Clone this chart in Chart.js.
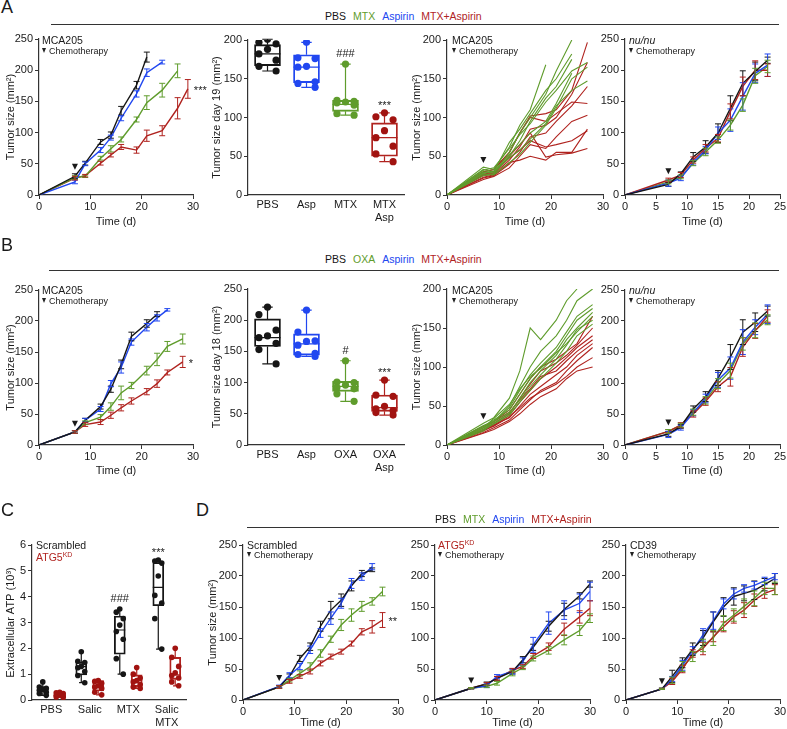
<!DOCTYPE html>
<html>
<head>
<meta charset="utf-8">
<script src="https://cdn.jsdelivr.net/npm/chart.js@4.4.1/dist/chart.umd.min.js"></script>
<style>
html, body { margin: 0; padding: 0; background: #fff; }
body { position: relative; width: 787px; height: 729px; overflow: hidden; font-family: "Liberation Sans", Arial, sans-serif; color: #1a1a1a; }
.abs { position: absolute; white-space: nowrap; }
.letter { font-size: 18px; line-height: 18px; }
.legend { font-size: 10.5px; line-height: 14px; }
.legend span { margin-right: 7px; }
.rule { position: absolute; height: 0; border-top: 1.3px solid #333; }
.note { position: absolute; white-space: nowrap; }
.note .n1 { font-size: 10.5px; line-height: 13px; }
.note .n2 { font-size: 9px; line-height: 11px; }
.tri { display: inline-block; width: 0; height: 0; border-left: 2.5px solid transparent; border-right: 2.5px solid transparent; border-top: 5px solid #222; margin-right: 3px; vertical-align: 1px; }
sup { font-size: 7px; vertical-align: 4px; line-height: 0; }
</style>
</head>
<body>
<script>
// colours
const C_PBS = '#161616', C_MTX = '#5f9c2c', C_ASP = '#2147f0', C_CMB = '#b0231f', C_DOT = '#a11310';
const AXIS = '#333';
const CHEMO_DAY = 7;

// ---------- A: MCA205, MTX +/- aspirin (mean tumor size, mm², ± SEM) ----------
const A1_T_PBS = [0, 7, 9, 12, 14, 16, 19, 21];
const A1_PBS   = [0, 30, 51, 85, 96, 135, 176, 221];
const A1_PBS_E = [0, 4, 3, 4, 5, 7, 6, 8];
const A1_T_ASP = [0, 7, 9, 12, 14, 16, 19, 21, 24];
const A1_ASP   = [0, 21, 50, 72, 92, 123, 162, 196, 213];
const A1_ASP_E = [0, 3, 3, 4, 4, 4, 5, 6, 3];
const A1_T_MTX = [0, 7, 9, 12, 14, 16, 19, 21, 24, 27];
const A1_MTX   = [0, 28, 30, 59, 74, 89, 121, 148, 168, 199];
const A1_MTX_E = [0, 3, 2, 3, 5, 4, 4, 11, 11, 11];
const A1_T_CMB = [0, 7, 9, 12, 14, 16, 19, 21, 24, 27, 29];
const A1_CMB   = [0, 27, 31, 51, 64, 77, 72, 95, 103, 139, 170];
const A1_CMB_E = [0, 3, 2, 3, 3, 4, 5, 9, 8, 17, 15];

// tumor size day 19 (box plots)
const A2_LABELS = ['PBS', 'Asp', 'MTX', ['MTX', 'Asp']];
const A2_PBS = [201, 197, 195, 188, 182, 174, 166, 160];
const A2_ASP = [197, 177, 176, 166, 165, 146, 144, 139];
const A2_MTX = [169, 122, 121, 120, 119, 116, 105, 103];
const A2_CMB = [106, 101, 97, 83, 74, 63, 53, 43];
const A2_Q1  = [167, 145, 108, 50];
const A2_MED = [182, 165, 117, 74];
const A2_Q3  = [194, 181, 122, 93];
const A2_SIG = ['', '', '###', '***'];

// individual tumors
const A3_T = [0, 7, 9, 12, 14, 16, 19, 21, 24, 27];
const A3_MTX = [
  [0, 36, 33, 62, 90, 110, 168],
  [0, 30, 28, 55, 80, 100, 130, 160, 200],
  [0, 28, 30, 68, 85, 105, 135, 150, 182],
  [0, 25, 27, 50, 70, 95, 125, 140, 175],
  [0, 32, 35, 60, 78, 92, 120, 135, 160, 171],
  [0, 27, 26, 42, 52, 68, 90, 112, 150, 165],
  [0, 33, 30, 48, 58, 72, 92, 115, 135, 147],
  [0, 29, 31, 52, 65, 80, 95, 118, 157]
];
const A3_CMB = [
  [0, 30, 33, 55, 80, 102, 105, 110, 135, 197],
  [0, 25, 27, 45, 62, 85, 90, 100, 130, 171],
  [0, 22, 25, 40, 55, 75, 80, 95, 115, 140],
  [0, 30, 33, 55, 80, 100, 95, 105, 120, 118],
  [0, 20, 24, 35, 50, 65, 60, 75, 95, 103],
  [0, 26, 28, 48, 58, 70, 62, 65, 70, 83],
  [0, 23, 26, 42, 45, 50, 45, 55, 55, 85],
  [0, 27, 29, 50, 65, 80, 49, 52, 54, 60]
];

// nu/nu mice
const A4_T = [0, 7, 9, 11, 13, 15, 17, 19, 21, 23];
const A4_PBS = [0, 17, 34, 61, 77, 99, 139, 179, 198, 216];
const A4_PBS_E = [0, 3, 3, 7, 10, 15, 20, 20, 15, 5];
const A4_ASP = [0, 19, 27, 52, 72, 99, 120, 158, 195, 208];
const A4_ASP_E = [0, 5, 4, 4, 6, 10, 18, 22, 15, 18];
const A4_CMB = [0, 24, 32, 56, 75, 91, 134, 174, 200, 200];
const A4_CMB_E = [0, 3, 4, 5, 6, 6, 12, 15, 15, 10];
const A4_MTX = [0, 21, 29, 51, 69, 88, 112, 144, 191, 206];
const A4_MTX_E = [0, 3, 3, 4, 6, 5, 8, 10, 12, 10];

// ---------- B: MCA205, OXA +/- aspirin ----------
const B1_T_PBS = [0, 7, 9, 12, 14, 16, 18, 21, 23];
const B1_PBS   = [0, 21, 40, 62, 90, 130, 175, 196, 211];
const B1_PBS_E = [0, 2, 3, 4, 5, 7, 7, 6, 4];
const B1_T_ASP = [0, 7, 9, 12, 14, 16, 18, 21, 23, 25];
const B1_ASP   = [0, 21, 40, 58, 99, 125, 166, 190, 205, 218];
const B1_ASP_E = [0, 2, 3, 4, 5, 9, 5, 6, 5, 2];
const B1_T_OXA = [0, 7, 9, 12, 14, 16, 18, 21, 23, 25, 28];
const B1_OXA   = [0, 21, 36, 45, 62, 84, 96, 120, 138, 159, 171];
const B1_OXA_E = [0, 2, 3, 4, 6, 11, 5, 7, 10, 8, 8];
const B1_CMB   = [0, 21, 33, 37, 48, 60, 71, 86, 99, 117, 134];
const B1_CMB_E = [0, 2, 3, 4, 5, 5, 5, 5, 6, 4, 9];

// tumor size day 18
const B2_LABELS = ['PBS', 'Asp', 'OXA', ['OXA', 'Asp']];
const B2_PBS = [221, 209, 184, 175, 172, 163, 153, 130];
const B2_ASP = [216, 181, 167, 166, 160, 147, 145, 142];
const B2_OXA = [135, 101, 100, 96, 92, 90, 82, 70];
const B2_CMB = [104, 80, 78, 62, 58, 55, 52, 48];
const B2_Q1  = [158, 144, 86, 54];
const B2_MED = [172, 162, 94, 60];
const B2_Q3  = [202, 178, 102, 80];
const B2_SIG = ['', '', '#', '***'];

const B3_T = [0, 7, 9, 12, 14, 16, 18, 21, 23, 25, 28];
const B3_OXA = [
  [0, 28, 35, 60, 95, 150, 135, 160, 185, 200],
  [0, 22, 30, 50, 75, 100, 120, 140, 160, 185, 200],
  [0, 20, 30, 48, 70, 90, 105, 125, 145, 165, 180],
  [0, 24, 32, 45, 65, 85, 100, 120, 140, 160, 175],
  [0, 18, 28, 40, 60, 80, 95, 115, 135, 150, 170],
  [0, 22, 34, 52, 72, 88, 98, 118, 130, 145, 165],
  [0, 25, 30, 42, 58, 75, 90, 110, 128, 148, 160],
  [0, 20, 27, 38, 55, 70, 85, 105, 120, 140, 155]
];
const B3_CMB = [
  [0, 22, 30, 45, 65, 85, 100, 110, 120, 130, 165],
  [0, 20, 28, 40, 60, 78, 95, 105, 115, 128, 150],
  [0, 18, 25, 38, 55, 70, 85, 100, 112, 125, 140],
  [0, 24, 30, 42, 58, 72, 88, 95, 108, 120, 135],
  [0, 20, 26, 35, 50, 65, 75, 90, 100, 115, 130],
  [0, 16, 22, 32, 45, 58, 70, 80, 95, 108, 125],
  [0, 19, 24, 36, 48, 60, 68, 78, 88, 100, 112],
  [0, 15, 20, 30, 40, 52, 62, 72, 85, 95, 100]
];

const B4_T = [0, 7, 9, 11, 13, 15, 17, 19, 21, 23];
const B4_PBS = [0, 18, 30, 58, 78, 108, 142, 182, 198, 216];
const B4_PBS_E = [0, 4, 3, 5, 8, 12, 20, 20, 15, 8];
const B4_ASP = [0, 17, 28, 52, 75, 105, 124, 166, 190, 211];
const B4_ASP_E = [0, 5, 4, 5, 7, 12, 18, 20, 12, 15];
const B4_CMB = [0, 22, 32, 50, 70, 94, 110, 158, 184, 208];
const B4_CMB_E = [0, 3, 4, 5, 6, 8, 15, 15, 12, 10];
const B4_OXA = [0, 22, 32, 53, 72, 99, 120, 163, 185, 202];
const B4_OXA_E = [0, 3, 3, 5, 6, 8, 12, 10, 12, 8];

// ---------- C: extracellular ATP (10³) ----------
const C_LABELS = ['PBS', 'Salic', 'MTX', ['Salic', 'MTX']];
const C_SCR_PBS = [0.70, 0.50, 0.45, 0.42, 0.38, 0.30, 0.25, 0.18];
const C_SCR_SAL = [1.87, 1.50, 1.45, 1.30, 1.25, 1.10, 0.95, 0.67];
const C_SCR_MTX = [3.52, 3.40, 3.15, 2.90, 2.65, 2.35, 1.60, 1.00];
const C_SCR_SM  = [5.42, 5.38, 5.30, 4.80, 4.05, 3.75, 3.15, 1.97];
const C_KD_PBS = [0.30, 0.28, 0.25, 0.20, 0.18, 0.15, 0.12, 0.10];
const C_KD_SAL = [0.75, 0.72, 0.65, 0.55, 0.50, 0.45, 0.30, 0.20];
const C_KD_MTX = [1.26, 1.00, 0.85, 0.75, 0.70, 0.60, 0.50, 0.45];
const C_KD_SM  = [2.00, 1.65, 1.30, 1.05, 0.95, 0.85, 0.70, 0.55];
const C_SCR_Q1  = [0.30, 0.97, 1.77, 3.65];
const C_SCR_MED = [0.40, 1.29, 2.71, 4.36];
const C_SCR_Q3  = [0.50, 1.46, 3.25, 5.32];
const C_KD_Q1  = [0.13, 0.35, 0.52, 0.80];
const C_KD_MED = [0.20, 0.55, 0.75, 0.97];
const C_KD_Q3  = [0.27, 0.75, 0.97, 1.65];
const C_SIG = ['', '', '###', '***'];

// ---------- D: Scrambled / ATG5KD / CD39 ----------
const D1_T = [0, 7, 9, 11, 13, 15, 17, 19, 21, 23, 25, 27];
const D1_PBS = [0, 21, 38, 67, 86, 119, 145, 161, 184, 204, 210];
const D1_PBS_E = [0, 2, 4, 5, 6, 8, 14, 10, 8, 5, 3];
const D1_ASP = [0, 22, 40, 54, 81, 108, 132, 156, 188, 199, 215];
const D1_ASP_E = [0, 2, 4, 5, 6, 7, 10, 8, 8, 6, 5];
const D1_MTX = [0, 21, 32, 43, 54, 75, 98, 121, 137, 151, 159, 175];
const D1_MTX_E = [0, 2, 3, 4, 6, 6, 5, 9, 10, 8, 6, 7];
const D1_CMB = [0, 21, 30, 38, 46, 59, 70, 78, 91, 110, 118, 129];
const D1_CMB_E = [0, 2, 3, 3, 4, 4, 4, 4, 4, 5, 10, 12];

const D2_T = [0, 7, 10, 12, 15, 17, 19, 22, 25, 28, 30];
const D2_PBS = [0, 19, 26, 35, 46, 65, 85, 119, 146, 168, 187];
const D2_PBS_E = [0, 1, 3, 3, 4, 5, 5, 8, 10, 5, 5];
const D2_ASP = [0, 19, 23, 38, 46, 62, 89, 124, 145, 156, 175];
const D2_ASP_E = [0, 1, 3, 3, 4, 6, 12, 18, 15, 15, 15];
const D2_CMB = [0, 19, 26, 35, 48, 54, 71, 86, 114, 134, 148];
const D2_CMB_E = [0, 1, 2, 3, 3, 3, 4, 6, 10, 10, 12];
const D2_MTX = [0, 19, 22, 27, 43, 52, 67, 80, 97, 112, 132];
const D2_MTX_E = [0, 1, 2, 3, 4, 3, 4, 6, 8, 8, 7];

const D3_T = [0, 7, 9, 11, 13, 15, 17, 19, 21, 23, 25, 27, 29];
const D3_PBS = [0, 18, 38, 60, 82, 100, 126, 150, 167, 172, 177, 186, 196];
const D3_PBS_E = [0, 1, 10, 8, 10, 12, 16, 15, 14, 12, 15, 10, 8];
const D3_ASP = [0, 18, 34, 56, 80, 105, 128, 155, 171, 180, 185, 192, 199];
const D3_ASP_E = [0, 1, 4, 8, 6, 10, 14, 8, 8, 6, 6, 6, 5];
const D3_MTX = [0, 18, 32, 54, 70, 88, 100, 124, 137, 151, 164, 180, 180];
const D3_MTX_E = [0, 1, 5, 8, 8, 10, 12, 12, 10, 12, 12, 10, 10];
const D3_CMB = [0, 18, 30, 50, 75, 83, 102, 118, 134, 145, 161, 172, 178];
const D3_CMB_E = [0, 1, 5, 6, 6, 10, 8, 8, 10, 12, 10, 8, 8];

// ---------- chart.js setup ----------
Chart.defaults.font.family = '"Liberation Sans", Arial, sans-serif';
Chart.defaults.font.size = 11;
Chart.defaults.color = '#1a1a1a';
Chart.defaults.animation = false;

const PT = 10;

// error bars (mean ± SEM) drawn from dataset.err via the scales
const errorBars = {
  id: 'errorBars',
  afterDatasetsDraw(chart) {
    const {ctx, scales: {x, y}} = chart;
    ctx.save();
    ctx.lineWidth = 1;
    chart.data.datasets.forEach(ds => {
      if (!ds.err) return;
      ctx.strokeStyle = ds.borderColor;
      ds.data.forEach((p, i) => {
        const e = ds.err[i];
        if (!e) return;
        const px = x.getPixelForValue(p.x);
        const hi = y.getPixelForValue(p.y + e), lo = y.getPixelForValue(p.y - e);
        ctx.beginPath();
        ctx.moveTo(px, hi); ctx.lineTo(px, lo);
        ctx.moveTo(px - 3, hi); ctx.lineTo(px + 3, hi);
        ctx.moveTo(px - 3, lo); ctx.lineTo(px + 3, lo);
        ctx.stroke();
      });
    });
    ctx.restore();
  }
};

// chemotherapy arrowhead above the highest point at the treatment day
const chemoMark = {
  id: 'chemoMark',
  afterDatasetsDraw(chart, args, opts) {
    if (!opts.show) return;
    const {ctx, scales: {x, y}} = chart;
    let top = 0;
    chart.data.datasets.forEach(ds => ds.data.forEach((p, i) => {
      if (p.x === CHEMO_DAY) top = Math.max(top, p.y + (ds.err ? ds.err[i] : 0));
    }));
    const px = x.getPixelForValue(CHEMO_DAY), tip = y.getPixelForValue(top) - 4;
    ctx.save();
    ctx.fillStyle = '#1a1a1a';
    ctx.beginPath();
    ctx.moveTo(px - 3, tip - 6); ctx.lineTo(px + 3, tip - 6); ctx.lineTo(px, tip);
    ctx.closePath(); ctx.fill();
    ctx.restore();
  }
};

// significance stars next to the last point of a curve
const sigMark = {
  id: 'sigMark',
  afterDatasetsDraw(chart, args, opts) {
    if (!opts.text) return;
    const ds = chart.data.datasets[opts.ds];
    const p = ds.data[ds.data.length - 1];
    const {ctx, scales: {x, y}} = chart;
    ctx.save();
    ctx.fillStyle = '#1a1a1a';
    ctx.font = '11px "Liberation Sans", Arial, sans-serif';
    ctx.textBaseline = 'middle';
    ctx.fillText(opts.text, x.getPixelForValue(p.x) + 6, y.getPixelForValue(p.y) + 2);
    ctx.restore();
  }
};

// whiskers (min..max of the points), median line and labels for the floating-bar boxes
const boxParts = {
  id: 'boxParts',
  beforeDatasetsDraw(chart) {
    const {ctx, scales: {x, y}} = chart;
    ctx.save();
    chart.data.datasets.forEach(ds => {
      if (!ds.box) return;
      ds.data.forEach((b, i) => {
        const px = x.getPixelForValue(b.x), half = ds.barThickness / 2, cap = half * 0.4;
        const pts = ds.box.pts[i];
        const yMin = y.getPixelForValue(Math.min(...pts)), yMax = y.getPixelForValue(Math.max(...pts));
        const yMed = y.getPixelForValue(ds.box.med[i]);
        ctx.strokeStyle = ds.borderColor[i];
        ctx.lineWidth = 1.2;
        ctx.beginPath();
        ctx.moveTo(px, y.getPixelForValue(b.y[1])); ctx.lineTo(px, yMax);
        ctx.moveTo(px - cap, yMax); ctx.lineTo(px + cap, yMax);
        ctx.moveTo(px, y.getPixelForValue(b.y[0])); ctx.lineTo(px, yMin);
        ctx.moveTo(px - cap, yMin); ctx.lineTo(px + cap, yMin);
        ctx.moveTo(px - half, yMed); ctx.lineTo(px + half, yMed);
        ctx.stroke();
      });
    });
    ctx.restore();
  },
  afterDatasetsDraw(chart) {
    const {ctx, scales: {x, y}} = chart;
    ctx.save();
    ctx.fillStyle = '#1a1a1a';
    ctx.font = '11px "Liberation Sans", Arial, sans-serif';
    ctx.textAlign = 'center';
    ctx.textBaseline = 'middle';
    chart.data.datasets.forEach(ds => {
      if (!ds.box || !ds.box.sig) return;
      ds.data.forEach((b, i) => {
        const t = ds.box.sig[i];
        if (!t) return;
        const top = y.getPixelForValue(Math.max(...ds.box.pts[i]));
        ctx.fillText(t, x.getPixelForValue(b.x), top - (t[0] === '#' ? 10 : 7));
      });
    });
    ctx.restore();
  }
};

Chart.register(errorBars, chemoMark, sigMark, boxParts);

// canvas host sized so the chart area lands on L..R x T..B in page pixels
function host(L, T, R, B, yw, xh, pr) {
  const d = document.createElement('div');
  d.style.cssText = `position:absolute;left:${L - yw}px;top:${T - PT}px;width:${R - L + yw + pr}px;height:${B - T + PT + xh}px`;
  const c = document.createElement('canvas');
  d.appendChild(c);
  document.body.appendChild(d);
  return c;
}

function yAxis(max, step, title, yw) {
  return {
    type: 'linear', position: 'left', min: 0, max,
    ticks: { stepSize: step, padding: 2 },
    grid: { drawOnChartArea: false, tickLength: 4, color: AXIS },
    border: { color: AXIS, width: 1.2 },
    title: { display: !!title, text: title, padding: { top: 4, bottom: 2 } },
    afterFit: s => { s.width = yw; }
  };
}

function xAxis(max, step, title, xh) {
  return {
    type: 'linear', position: 'bottom', min: 0, max,
    ticks: { stepSize: step, padding: 1, maxRotation: 0 },
    grid: { drawOnChartArea: false, tickLength: 4, color: AXIS },
    border: { color: AXIS, width: 1.2 },
    title: { display: !!title, text: title, padding: { top: 0, bottom: 2 } },
    afterFit: s => { s.height = xh; }
  };
}

// numeric axis 0.5..4.5 whose ticks sit on the four group centres
function catAxis(labels, xh) {
  return {
    type: 'linear', position: 'bottom', min: 0.5, max: 4.5, bounds: 'data', offset: false,
    ticks: { padding: 3, maxRotation: 0, autoSkip: false, callback: v => labels[Math.round(v) - 1] },
    afterBuildTicks: s => { s.ticks = labels.map((l, i) => ({ value: i + 1 })); },
    grid: { drawOnChartArea: false, drawTicks: false, color: AXIS },
    border: { color: AXIS, width: 1.2 },
    afterFit: s => { s.height = xh; }
  };
}

function series(t, y, e, color, w) {
  return {
    data: y.map((v, i) => ({ x: t[i], y: v })),
    err: e, borderColor: color, borderWidth: w || 1.4,
    pointRadius: 0, tension: 0, fill: false
  };
}

function lineChart(canvas, o) {
  return new Chart(canvas, {
    type: 'line',
    data: { datasets: o.series },
    options: {
      responsive: true, maintainAspectRatio: false, animation: false,
      layout: { padding: { top: PT, right: o.pr, left: 0, bottom: 0 } },
      scales: { x: xAxis(o.xmax, o.xstep, 'Time (d)', o.xh), y: yAxis(o.ymax, o.ystep, o.ytitle, o.yw) },
      plugins: { legend: { display: false }, tooltip: { enabled: false },
                 chemoMark: { show: true }, sigMark: o.sig || {} }
    }
  });
}

// spread points of one group sideways (beeswarm-like)
const JIT = [0, -1, 1, 0, -1, 1, -1, 1, 0];
function swarm(xc, vals, spread) {
  return vals.map((v, i) => ({ x: xc + JIT[i % JIT.length] * spread, y: v }));
}

function boxChart(canvas, o) {
  const datasets = [];
  o.groups.forEach(g => {
    datasets.push({
      type: 'bar', order: 2, grouped: false, barThickness: o.barW,
      data: g.xs.map((xc, i) => ({ x: xc, y: [g.q1[i], g.q3[i]] })),
      backgroundColor: 'rgba(255,255,255,0)', borderColor: g.colors, borderWidth: 1.2, borderSkipped: false,
      box: { pts: g.pts, med: g.med, sig: g.sig }
    });
    datasets.push({
      type: 'scatter', order: 1,
      data: g.pts.flatMap((vals, i) => swarm(g.xs[i], vals, o.spread)),
      backgroundColor: g.dots.length === 1 ? g.dots[0] : g.pts.flatMap((vals, i) => vals.map(() => g.dots[i])),
      borderWidth: 0, pointRadius: o.r
    });
  });
  return new Chart(canvas, {
    type: 'bar',
    data: { datasets },
    options: {
      responsive: true, maintainAspectRatio: false, animation: false,
      layout: { padding: { top: PT, right: 8, left: 0, bottom: 0 } },
      scales: { x: catAxis(o.labels, o.xh), y: yAxis(o.ymax, o.ystep, o.ytitle, o.yw) },
      plugins: { legend: { display: false }, tooltip: { enabled: false } }
    }
  });
}

const four = [1, 2, 3, 4];

// ----- Row A -----
lineChart(host(39, 39, 193, 195, 39, 36, 18), {
  xmax: 30, xstep: 10, ymax: 250, ystep: 50, ytitle: 'Tumor size (mm²)', yw: 39, xh: 36, pr: 18,
  series: [
    series(A1_T_PBS, A1_PBS, A1_PBS_E, C_PBS),
    series(A1_T_ASP, A1_ASP, A1_ASP_E, C_ASP),
    series(A1_T_MTX, A1_MTX, A1_MTX_E, C_MTX),
    series(A1_T_CMB, A1_CMB, A1_CMB_E, C_CMB)
  ],
  sig: { ds: 3, text: '***' }
});

boxChart(host(248, 40, 404, 195, 42, 30, 8), {
  labels: A2_LABELS, ymax: 200, ystep: 50, ytitle: 'Tumor size day 19 (mm²)', yw: 42, xh: 30,
  barW: 26, spread: 0.22, r: 3.6,
  groups: [{
    xs: four, pts: [A2_PBS, A2_ASP, A2_MTX, A2_CMB], q1: A2_Q1, med: A2_MED, q3: A2_Q3, sig: A2_SIG,
    colors: [C_PBS, C_ASP, C_MTX, C_CMB], dots: [C_PBS, C_ASP, C_MTX, C_DOT]
  }]
});

lineChart(host(447, 40, 603, 195, 41, 36, 8), {
  xmax: 30, xstep: 10, ymax: 200, ystep: 50, ytitle: 'Tumor size (mm²)', yw: 41, xh: 36, pr: 8,
  series: A3_MTX.map(v => series(A3_T, v, null, C_MTX, 1.1))
    .concat(A3_CMB.map(v => series(A3_T, v, null, C_CMB, 1.1)))
});

lineChart(host(625, 39, 780, 195, 30, 36, 8), {
  xmax: 25, xstep: 5, ymax: 250, ystep: 50, ytitle: '', yw: 30, xh: 36, pr: 8,
  series: [
    series(A4_T, A4_PBS, A4_PBS_E, C_PBS),
    series(A4_T, A4_ASP, A4_ASP_E, C_ASP),
    series(A4_T, A4_CMB, A4_CMB_E, C_CMB),
    series(A4_T, A4_MTX, A4_MTX_E, C_MTX)
  ]
});

// ----- Row B -----
lineChart(host(39, 290, 193, 445, 39, 35, 18), {
  xmax: 30, xstep: 10, ymax: 250, ystep: 50, ytitle: 'Tumor size (mm²)', yw: 39, xh: 35, pr: 18,
  series: [
    series(B1_T_PBS, B1_PBS, B1_PBS_E, C_PBS),
    series(B1_T_ASP, B1_ASP, B1_ASP_E, C_ASP),
    series(B1_T_OXA, B1_OXA, B1_OXA_E, C_MTX),
    series(B1_T_OXA, B1_CMB, B1_CMB_E, C_CMB)
  ],
  sig: { ds: 3, text: '*' }
});

boxChart(host(248, 289, 404, 445, 42, 30, 8), {
  labels: B2_LABELS, ymax: 250, ystep: 50, ytitle: 'Tumor size day 18 (mm²)', yw: 42, xh: 30,
  barW: 26, spread: 0.22, r: 3.6,
  groups: [{
    xs: four, pts: [B2_PBS, B2_ASP, B2_OXA, B2_CMB], q1: B2_Q1, med: B2_MED, q3: B2_Q3, sig: B2_SIG,
    colors: [C_PBS, C_ASP, C_MTX, C_CMB], dots: [C_PBS, C_ASP, C_MTX, C_DOT]
  }]
});

lineChart(host(447, 289, 603, 445, 41, 35, 8), {
  xmax: 30, xstep: 10, ymax: 200, ystep: 50, ytitle: 'Tumor size (mm²)', yw: 41, xh: 35, pr: 8,
  series: B3_OXA.map(v => series(B3_T, v, null, C_MTX, 1.1))
    .concat(B3_CMB.map(v => series(B3_T, v, null, C_CMB, 1.1)))
});

lineChart(host(625, 290, 780, 445, 30, 35, 8), {
  xmax: 25, xstep: 5, ymax: 250, ystep: 50, ytitle: '', yw: 30, xh: 35, pr: 8,
  series: [
    series(B4_T, B4_PBS, B4_PBS_E, C_PBS),
    series(B4_T, B4_ASP, B4_ASP_E, C_ASP),
    series(B4_T, B4_CMB, B4_CMB_E, C_CMB),
    series(B4_T, B4_OXA, B4_OXA_E, C_MTX)
  ]
});

// ----- Row C / D -----
boxChart(host(32, 545, 186, 700, 32, 29, 8), {
  labels: C_LABELS, ymax: 6, ystep: 1, ytitle: 'Extracellular ATP (10³)', yw: 32, xh: 29,
  barW: 11, spread: 0.09, r: 2.8,
  groups: [
    { xs: four.map(v => v - 0.22), pts: [C_SCR_PBS, C_SCR_SAL, C_SCR_MTX, C_SCR_SM],
      q1: C_SCR_Q1, med: C_SCR_MED, q3: C_SCR_Q3, sig: C_SIG,
      colors: [C_PBS, C_PBS, C_PBS, C_PBS], dots: [C_PBS] },
    { xs: four.map(v => v + 0.22), pts: [C_KD_PBS, C_KD_SAL, C_KD_MTX, C_KD_SM],
      q1: C_KD_Q1, med: C_KD_MED, q3: C_KD_Q3,
      colors: [C_CMB, C_CMB, C_CMB, C_CMB], dots: [C_DOT] }
  ]
});

lineChart(host(243, 545, 398, 700, 41, 32, 16), {
  xmax: 30, xstep: 10, ymax: 250, ystep: 50, ytitle: 'Tumor size (mm²)', yw: 41, xh: 32, pr: 16,
  series: [
    series(D1_T, D1_PBS, D1_PBS_E, C_PBS),
    series(D1_T, D1_ASP, D1_ASP_E, C_ASP),
    series(D1_T, D1_MTX, D1_MTX_E, C_MTX),
    series(D1_T, D1_CMB, D1_CMB_E, C_CMB)
  ],
  sig: { ds: 3, text: '**' }
});

lineChart(host(435, 545, 590, 700, 30, 32, 8), {
  xmax: 30, xstep: 10, ymax: 250, ystep: 50, ytitle: '', yw: 30, xh: 32, pr: 8,
  series: [
    series(D2_T, D2_PBS, D2_PBS_E, C_PBS),
    series(D2_T, D2_ASP, D2_ASP_E, C_ASP),
    series(D2_T, D2_CMB, D2_CMB_E, C_CMB),
    series(D2_T, D2_MTX, D2_MTX_E, C_MTX)
  ]
});

lineChart(host(626, 545, 780, 700, 30, 32, 8), {
  xmax: 30, xstep: 10, ymax: 250, ystep: 50, ytitle: '', yw: 30, xh: 32, pr: 8,
  series: [
    series(D3_T, D3_PBS, D3_PBS_E, C_PBS),
    series(D3_T, D3_ASP, D3_ASP_E, C_ASP),
    series(D3_T, D3_CMB, D3_CMB_E, C_CMB),
    series(D3_T, D3_MTX, D3_MTX_E, C_MTX)
  ]
});

// ---------- text: panel letters, group legends, rules, in-panel notes ----------
function text(cls, x, y, html) {
  const d = document.createElement('div');
  d.className = 'abs ' + cls;
  d.style.left = x + 'px';
  d.style.top = y + 'px';
  d.innerHTML = html;
  document.body.appendChild(d);
}
function rule(x1, x2, y) {
  const d = document.createElement('div');
  d.className = 'rule';
  d.style.cssText = `left:${x1}px;width:${x2 - x1}px;top:${y}px`;
  document.body.appendChild(d);
}
function note(x, yc, first, chemo, gap) {
  const d = document.createElement('div');
  d.className = 'note';
  d.style.left = x + 'px';
  d.style.top = (yc - 6.5) + 'px';
  d.innerHTML = `<div class="n1">${first}</div>` +
    (chemo ? `<div class="n2" style="margin-top:${gap - 12.5}px"><span class="tri"></span>Chemotherapy</div>` : '');
  document.body.appendChild(d);
}
const span = (c, t) => `<span style="color:${c}">${t}</span>`;

text('letter', 1, -2, 'A');
text('letter', 1, 236, 'B');
text('letter', 1, 501, 'C');
text('letter', 196, 501, 'D');

text('legend', 325, 9, span(C_PBS, 'PBS') + span(C_MTX, 'MTX') + span(C_ASP, 'Aspirin') + span(C_CMB, 'MTX+Aspirin'));
text('legend', 325, 252, span(C_PBS, 'PBS') + span(C_MTX, 'OXA') + span(C_ASP, 'Aspirin') + span(C_CMB, 'MTX+Aspirin'));
text('legend', 435, 512, span(C_PBS, 'PBS') + span(C_MTX, 'MTX') + span(C_ASP, 'Aspirin') + span(C_CMB, 'MTX+Aspirin'));
rule(51, 779, 24);
rule(49, 779, 270);
rule(247, 779, 527);

note(42, 40, 'MCA205', true, 12);
note(452, 40, 'MCA205', true, 12);
note(629, 40, '<i>nu/nu</i>', true, 12);
note(42, 290, 'MCA205', true, 12);
note(452, 290, 'MCA205', true, 12);
note(629, 290, '<i>nu/nu</i>', true, 12);
note(36, 545, 'Scrambled', false, 11);
note(36, 557, `<span style="color:${C_CMB}">ATG5<sup>KD</sup></span>`, false, 11);
note(247, 545, 'Scrambled', true, 11);
note(438, 545, `<span style="color:${C_CMB}">ATG5<sup>KD</sup></span>`, true, 11);
note(630, 545, 'CD39', true, 11);
</script>
</body>
</html>
